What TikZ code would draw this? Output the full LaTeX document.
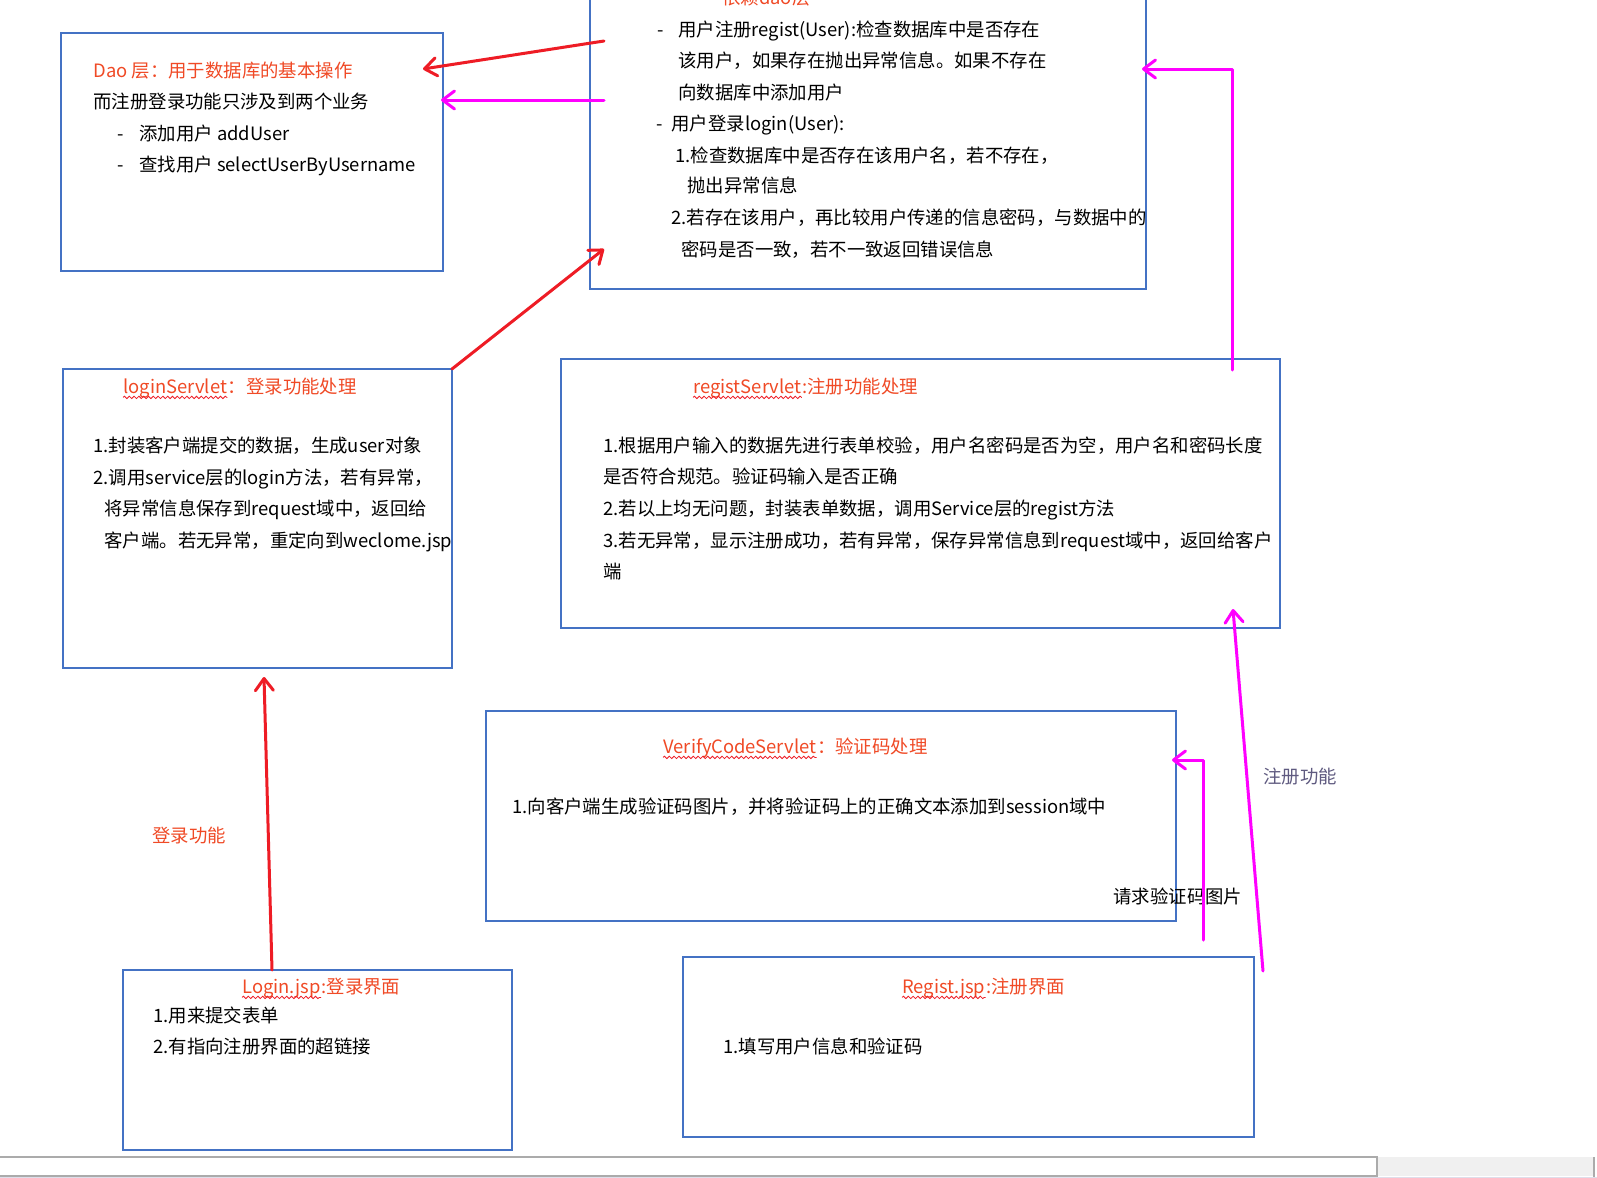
\documentclass[tikz,border=0pt]{standalone}
\usepackage{fontspec}
\usetikzlibrary{arrows.meta,fit,decorations.pathmorphing}
\newfontfamily\cjk{Noto Sans CJK SC}
\definecolor{boxblue}{HTML}{4472C4}
\definecolor{arrred}{HTML}{EE1C25}
\definecolor{arrmag}{HTML}{FF00FF}
\definecolor{ttlred}{HTML}{F04A26}
\definecolor{lblgray}{HTML}{5F5A80}
\definecolor{sbline}{HTML}{ABABAB}
\definecolor{sbfill}{HTML}{F0F0F0}
\definecolor{sbstrip}{HTML}{DEDEEA}
\newcommand\tline[5][txt]{\node[#1] (#2) at (#3,#4) {#5};}
% title with a wavy underlined latin part: name, x, y, latin, rest
\newcommand\wtitle[5]{%
  \node[ttl] (#1a) at (#2,#3) {#4};
  \node[ttl] (#1) at (#1a.base east) {#5};
  \draw[wavy] ([yshift=-2.2pt]#1a.base west) -- ([yshift=-2.2pt]#1a.base east);}
\begin{document}
\begin{tikzpicture}[x=0.5pt,y=-0.5pt,
  box/.style={draw=boxblue,line width=1.2pt,inner sep=0pt},
  txt/.style={anchor=base west,inner sep=0pt,font=\cjk\fontsize{9.2pt}{11pt}\selectfont,text=black},
  ttl/.style={txt,text=ttlred},
  wavy/.style={draw=arrred,line width=0.4pt,decorate,decoration={snake,amplitude=0.6pt,segment length=2.4pt}},
  redarr/.style={draw=arrred,line width=1.5pt,line cap=round,line join=round,-{Straight Barb[length=6pt,width=9pt,round]}},
  magarr/.style={draw=arrmag,line width=1.5pt,line cap=round,line join=round,-{Straight Barb[length=6pt,width=9pt,round]}},
]
\useasboundingbox (0,0) rectangle (1597,1178);
\fill[white] (0,0) rectangle (1597,1178);

% boxes
\node[box,fit={(61,33) (443,271)}] (dao) {};
\node[box,fit={(590,-20) (1146,289)}] (svc) {};
\node[box,fit={(63,369) (452,668)}] (loginS) {};
\node[box,fit={(561,359) (1280,628)}] (registS) {};
\node[box,fit={(486,711) (1176,921)}] (verify) {};
\node[box,fit={(123,970) (512,1150)}] (loginJ) {};
\node[box,fit={(683,957) (1254,1137)}] (registJ) {};

% Dao box text
\tline[ttl]{dao1}{93}{77}{Dao 层：用于数据库的基本操作}
\tline{dao2}{93}{108}{而注册登录功能只涉及到两个业务}
\tline{dao3}{117}{140}{\makebox[11pt][l]{-}添加用户 addUser}
\tline{dao4}{117}{171}{\makebox[11pt][l]{-}查找用户 selectUserByUsername}

% service box text
\tline[ttl]{s0}{722}{4}{依赖dao层}
\tline{s1}{657}{36}{\makebox[10.5pt][l]{-}用户注册regist(User):检查数据库中是否存在}
\tline{s2}{678}{67}{该用户，如果存在抛出异常信息。如果不存在}
\tline{s3}{678}{99}{向数据库中添加用户}
\tline{s4}{656}{130}{\makebox[7.5pt][l]{-}用户登录login(User):}
\tline{s5}{675}{162}{1.检查数据库中是否存在该用户名，若不存在，}
\tline{s6}{687}{192}{抛出异常信息}
\tline{s7}{671}{224}{2.若存在该用户，再比较用户传递的信息密码，与数据中的}
\tline{s8}{681}{256}{密码是否一致，若不一致返回错误信息}

% loginServlet text
\wtitle{l0}{123}{393}{loginServlet}{：登录功能处理}
\tline{l1}{93}{452}{1.封装客户端提交的数据，生成user对象}
\tline{l2}{93}{484}{2.调用service层的login方法，若有异常，}
\tline{l3}{104}{515}{将异常信息保存到request域中，返回给}
\tline{l4}{104}{547}{客户端。若无异常，重定向到weclome.jsp}

% registServlet text
\wtitle{r0}{693}{393}{registServlet}{:注册功能处理}
\tline{r1}{603}{452}{1.根据用户输入的数据先进行表单校验，用户名密码是否为空，用户名和密码长度}
\tline{r2}{603}{483}{是否符合规范。验证码输入是否正确}
\tline{r3}{603}{515}{2.若以上均无问题，封装表单数据，调用Service层的regist方法}
\tline{r4}{603}{547}{3.若无异常，显示注册成功，若有异常，保存异常信息到request域中，返回给客户}
\tline{r5}{603}{578}{端}

% VerifyCodeServlet text
\wtitle{v0}{663}{753}{VerifyCodeServlet}{：验证码处理}
\tline{v1}{512}{813}{1.向客户端生成验证码图片，并将验证码上的正确文本添加到session域中}

% Login.jsp text
\wtitle{j0}{242}{993}{Login.jsp}{:登录界面}
\tline{j1}{153}{1022}{1.用来提交表单}
\tline{j2}{153}{1053}{2.有指向注册界面的超链接}

% Regist.jsp text
\wtitle{g0}{902}{993}{Regist.jsp}{:注册界面}
\tline{g1}{723}{1053}{1.填写用户信息和验证码}

% labels
\node[txt,anchor=base,text=ttlred] (lab1) at (189,842) {登录功能};
\node[txt,text=lblgray] (lab2) at (1263,783) {注册功能};
\node[txt] (lab3) at (1113,903) {请求验证码图片};

% connector end points
\coordinate (a1s) at (604,41);   \coordinate (a1e) at (423,69);
\coordinate (a2s) at (604,100);  \coordinate (a2e) at (441,100);
\coordinate (a3s) at (452,369);  \coordinate (a3e) at (604,249);
\coordinate (a4s) at (272,970);  \coordinate (a4e) at (264,677);
\coordinate (a5s) at (1263,971); \coordinate (a5e) at (1233,609);
\coordinate (a6s) at (1232,370); \coordinate (a6m) at (1232,69); \coordinate (a6e) at (1142,69);
\coordinate (a7s) at (1203,940); \coordinate (a7m) at (1203,760); \coordinate (a7e) at (1172,760);

\draw[redarr] (a1s) -- (a1e);
\draw[magarr] (a2s) -- (a2e);
\draw[redarr] (a3s) -- (a3e);
\draw[redarr] (a4s) -- (a4e);
\draw[magarr] (a5s) -- (a5e);
\draw[magarr] (a6s) -- (a6m) -- (a6e);
\draw[magarr] (a7s) -- (a7m) -- (a7e);

% bottom scroll bar
\fill[sbfill] (1377,1157) rectangle (1594,1176);
\draw[sbline,line width=0.6pt] (0,1157) -- (1377,1157) -- (1377,1176) -- (0,1176);
\draw[sbline,line width=0.6pt] (1594,1157) -- (1594,1178);
\fill[sbstrip] (0,1176.8) rectangle (1597,1178);
\end{tikzpicture}
\end{document}
